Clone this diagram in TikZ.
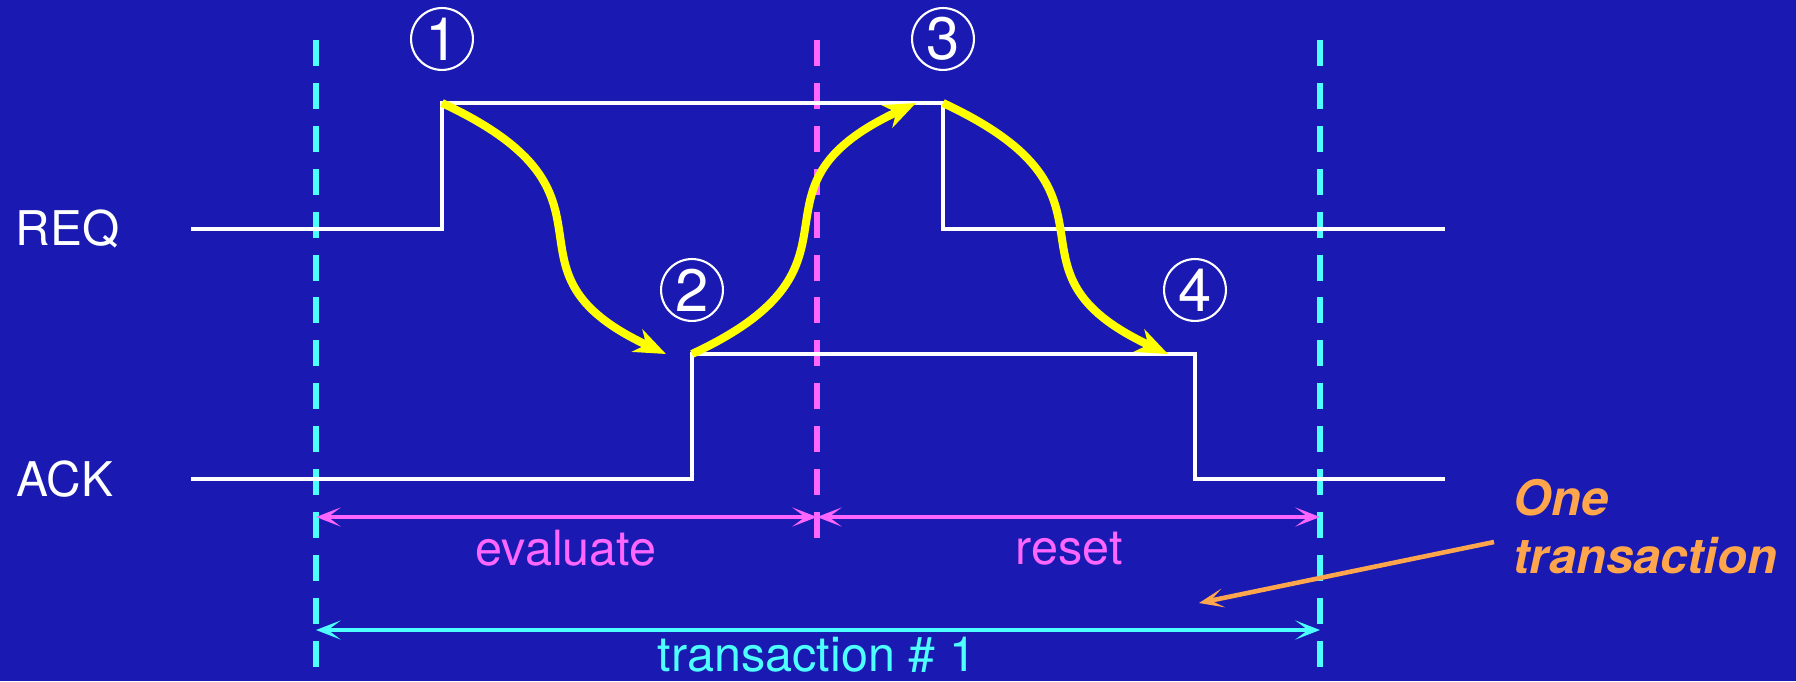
\documentclass[tikz,border=0pt]{standalone}
\usepackage{fontspec}
\setmainfont{TeX Gyre Heros}
\usetikzlibrary{arrows.meta, positioning}
\definecolor{SlideBlue}{RGB}{26,26,178}
\definecolor{SigPink}{RGB}{255,102,255}
\definecolor{SigCyan}{RGB}{77,255,255}
\definecolor{SigYellow}{RGB}{255,255,0}
\definecolor{NoteOrange}{RGB}{255,166,77}
\tikzset{
    >={Stealth[length=7pt, width=5.4pt, inset=3.6pt]},
    wave/.style={draw=white, line width=1.4pt},
    marker/.style={line width=1.6pt, dash pattern=on 7.4pt off 4.8pt},
    span/.style={<->, line width=1.3pt},
    causal/.style={draw=SigYellow, line width=2.3pt, -{Stealth[length=9pt, width=7pt, inset=2.8pt]}},
    stepnum/.style={circle, draw=white, line width=0.6pt, minimum size=17.6pt, inner sep=0pt, text=white, font=\fontsize{17}{17}\selectfont},
    signame/.style={inner sep=0pt, text=white, font=\fontsize{13.6}{16}\selectfont},
    phase/.style={inner sep=0pt, font=\fontsize{13.8}{16}\selectfont},
    note/.style={inner sep=0pt, align=left, text=NoteOrange, font=\fontsize{13.9}{16.4}\selectfont\bfseries\itshape}
}

\begin{document}
\begin{tikzpicture}[x=0.01cm, y=-0.01cm]
    \useasboundingbox (0,0) rectangle (1796,681);
    \fill [SlideBlue] (0,0) rectangle (1796,681);

    % time marks
    \coordinate (t0 top) at (316,40);
    \coordinate (t0 bot) at (316,681);
    \coordinate (th top) at (817,40);
    \coordinate (th bot) at (817,540);
    \coordinate (t1 top) at (1320,40);
    \coordinate (t1 bot) at (1320,681);
    \draw [marker, SigCyan] (t0 top) -- (t0 bot);
    \draw [marker, SigCyan] (t1 top) -- (t1 bot);
    \draw [marker, SigPink] (th top) -- (th bot);

    % REQ / ACK
    \coordinate (r0) at (191,229);
    \coordinate (r1) at (442,103);
    \coordinate (r3) at (943,103);
    \coordinate (rE) at (1445,229);
    \draw [wave] (r0) -| (r1) -- (r3) |- (rE);
    \coordinate (a0) at (191,479);
    \coordinate (a2) at (692,354);
    \coordinate (a4) at (1195,354);
    \coordinate (aE) at (1445,479);
    \draw [wave] (a0) -| (a2) -- (a4) |- (aE);
    \node [signame, anchor=base west] (req) at (15,245) {REQ};
    \node [signame, anchor=base west] (ack) at (16,496) {ACK};

    % handshake
    \coordinate (a2 in) at (666,354);
    \coordinate (r3 in) at (916,103);
    \coordinate (a4 in) at (1168,354);
    \draw [causal] (r1) .. controls +(25:222) and +(205:200) .. (a2 in);
    \draw [causal] (a2) .. controls +(-25:215) and +(155:205) .. (r3 in);
    \draw [causal] (r3) .. controls +(25:222) and +(205:200) .. (a4 in);
    \node [stepnum, above=0.32cm of r1] (n1) {1};
    \node [stepnum, above=0.32cm of a2] (n2) {2};
    \node [stepnum, above=0.32cm of r3] (n3) {3};
    \node [stepnum, above=0.32cm of a4] (n4) {4};

    % phases
    \coordinate (ev l) at (316,517);
    \coordinate (ev r) at (817,517);
    \coordinate (rs r) at (1320,517);
    \coordinate (tr l) at (316,630);
    \coordinate (tr r) at (1320,630);
    \draw [span, SigPink] (ev l) -- (ev r);
    \draw [span, SigPink] (ev r) -- (rs r);
    \draw [span, SigCyan] (tr l) -- (tr r);
    \node [phase, text=SigPink, anchor=base] (eval) at (566,565) {evaluate};
    \node [phase, text=SigPink, anchor=base] (reset) at (1069,564) {reset};
    \node [phase, text=SigCyan, anchor=base] (trans) at (817,671) {transaction \# 1};

    \node [note, anchor=base west] (note) at (1513,573) {One\\transaction};
    \coordinate (note tail) at (1494,542);
    \coordinate (note tip) at (1199,603);
    \draw [->, NoteOrange, line width=1.3pt] (note tail) -- (note tip);
\end{tikzpicture}
\end{document}
